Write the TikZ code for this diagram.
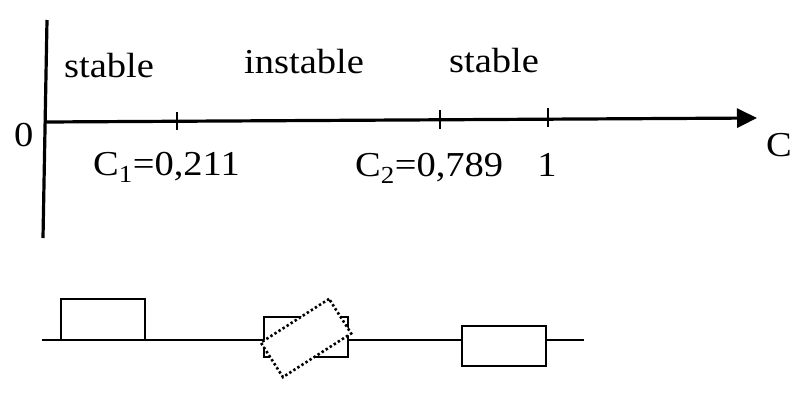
\documentclass[tikz,border=0pt]{standalone}
\usepackage{fontspec}
\setmainfont{Liberation Serif}[FakeStretch=1.1]
\usetikzlibrary{arrows.meta}
\begin{document}
\begin{tikzpicture}[x=1pt,y=-1pt,
  lbl/.style={font=\fontsize{35}{40}\selectfont, inner sep=0pt},
  axis/.style={line width=3.2pt},
  tick/.style={line width=2.2pt},
  box/.style={draw, line width=2.6pt, minimum width=84pt, minimum height=40pt, inner sep=0pt},
  tilted/.style={draw, fill=white, line width=2.6pt, dash pattern=on 2.4pt off 2.4pt, minimum width=81pt, minimum height=41pt, inner sep=0pt, rotate=32.6},
  ground/.style={line width=2.8pt}]
\useasboundingbox (0,0) rectangle (800,400);
% axes
\coordinate (vtop) at (47,20);
\coordinate (vbot) at (43,238);
\coordinate (hstart) at (45,122);
\coordinate (hend) at (757,118);
\draw[axis] (vtop) -- (vbot);
\draw[axis, -{Triangle[length=20pt,width=19pt]}] (hstart) -- (hend);
% ticks
\coordinate (t1a) at (177,112); \coordinate (t1b) at (177,130);
\coordinate (t2a) at (440,110); \coordinate (t2b) at (440,129);
\coordinate (t3a) at (548,108); \coordinate (t3b) at (548,127);
\draw[tick] (t1a) -- (t1b);
\draw[tick] (t2a) -- (t2b);
\draw[tick] (t3a) -- (t3b);
% labels
\node[lbl, anchor=base west] (s1) at (64,77) {stable};
\node[lbl, anchor=base west] (ins) at (244,73) {instable};
\node[lbl, anchor=base west] (s2) at (449,72) {stable};
\node[lbl, anchor=base west] (zero) at (14,146) {0};
\node[lbl, anchor=base west] (cax) at (766,156) {C};
\node[lbl, anchor=base west] (c1) at (93,175) {C\textsubscript{1}=0,211};
\node[lbl, anchor=base west] (c2) at (355,176) {C\textsubscript{2}=0,789};
\node[lbl, anchor=base] (one) at (547,176) {1};
% bottom: boxes on a line
\coordinate (g0) at (42,340);
\coordinate (g1) at (584,340);
\node[box, minimum height=41pt] (bl) at (103,319.5) {};
\node[box] (bm) at (306,337) {};
\node[box] (br) at (504,346) {};
\node[tilted] (bt) at (306,338) {};
\draw[ground] (g0) -- (bm.west |- g0);
\draw[ground] (bm.east |- g0) -- (br.west |- g0);
\draw[ground] (br.east |- g0) -- (g1);
\end{tikzpicture}
\end{document}
